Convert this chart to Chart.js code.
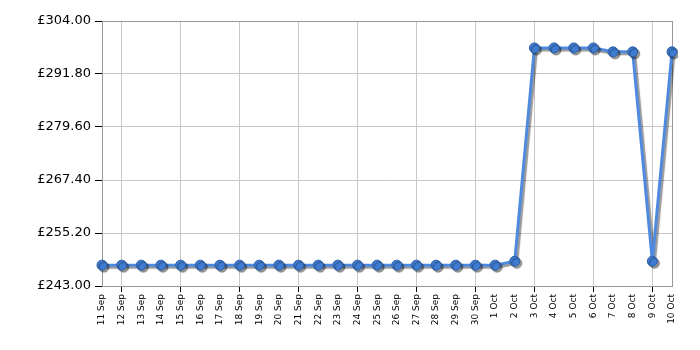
<!DOCTYPE html>
<html>
<head>
<meta charset="utf-8">
<script src="https://cdn.jsdelivr.net/npm/chart.js@4"></script>
<style>
  html, body { margin: 0; padding: 0; background: #fff; }
  #wrap { width: 700px; height: 350px; }
</style>
</head>
<body>
<div id="wrap"><canvas id="priceChart"></canvas></div>
<script>
// Ngày (nhãn trục x)
const dates = ['11 Sep', '12 Sep', '13 Sep', '14 Sep', '15 Sep', '16 Sep', '17 Sep', '18 Sep', '19 Sep', '20 Sep',
    '21 Sep', '22 Sep', '23 Sep', '24 Sep', '25 Sep', '26 Sep', '27 Sep', '28 Sep', '29 Sep', '30 Sep',
    '1 Oct', '2 Oct', '3 Oct', '4 Oct', '5 Oct', '6 Oct', '7 Oct', '8 Oct', '9 Oct', '10 Oct'];

// Giá theo ngày
const prices = [247.8, 247.8, 247.8, 247.8, 247.8, 247.8, 247.8, 247.8, 247.8, 247.8,
    247.8, 247.8, 247.8, 247.8, 247.8, 247.8, 247.8, 247.8, 247.8, 247.8,
    247.8, 248.7, 297.8, 297.8, 297.8, 297.8, 296.9, 296.9, 248.7, 296.9];

// Nhãn trục y
const yTicks = [243.0, 255.2, 267.4, 279.6, 291.8, 304.0];

// Bóng đổ cho đường và điểm
const shadowPlugin = {
    id: 'shadow',
    beforeDatasetDraw(chart) {
        const ctx = chart.ctx;
        ctx.save();
        ctx.shadowColor = 'rgba(0,0,0,0.4)';
        ctx.shadowBlur = 1;
        ctx.shadowOffsetX = 2;
        ctx.shadowOffsetY = 2;
    },
    afterDatasetDraw(chart) {
        chart.ctx.restore();
    }
};

// Khung quanh vùng biểu đồ
const framePlugin = {
    id: 'frame',
    beforeDatasetsDraw(chart) {
        const { ctx, chartArea: a } = chart;
        ctx.save();
        ctx.strokeStyle = '#999';
        ctx.lineWidth = 1;
        ctx.strokeRect(Math.round(a.left) + 0.5, Math.round(a.top) + 0.5,
            Math.round(a.right - a.left), Math.round(a.bottom - a.top));
        ctx.restore();
    }
};

const ctxPrice = document.getElementById('priceChart').getContext('2d');
new Chart(ctxPrice, {
    type: 'line',
    data: {
        labels: dates,
        datasets: [{
            data: prices,
            borderColor: '#4f8ade',
            borderWidth: 3,
            pointRadius: 5,
            pointBackgroundColor: '#3f7bd0',
            pointBorderColor: '#2b5ea6',
            pointBorderWidth: 1,
            tension: 0,
            fill: false
        }]
    },
    options: {
        responsive: true,
        maintainAspectRatio: false,
        animation: false,
        layout: { padding: { top: 21, right: 28, bottom: 0, left: 0 } },
        plugins: {
            legend: { display: false },
            tooltip: { enabled: false }
        },
        scales: {
            x: {
                offset: false,
                border: { color: '#999', width: 1 },
                grid: {
                    color: c => (c.index % 3 === 1 ? '#c8c8c8' : 'rgba(0,0,0,0)'),
                    tickColor: c => (c.index % 3 === 1 ? '#000' : 'rgba(0,0,0,0)'),
                    tickLength: 6
                },
                ticks: {
                    autoSkip: false,
                    minRotation: 90,
                    maxRotation: 90,
                    padding: 2,
                    color: '#000',
                    font: { family: 'DejaVu Sans', size: 9 }
                },
                afterFit: s => { s.height = 64; }
            },
            y: {
                min: 243,
                max: 304,
                border: { color: '#999', width: 1 },
                grid: { color: '#c8c8c8', tickColor: '#000', tickLength: 7 },
                ticks: {
                    color: '#000',
                    padding: 4,
                    font: { family: 'DejaVu Sans', size: 13 },
                    callback: v => '£' + Number(v).toFixed(2)
                },
                afterBuildTicks: s => { s.ticks = yTicks.map(v => ({ value: v })); },
                afterFit: s => { s.width = 102; }
            }
        }
    },
    plugins: [shadowPlugin, framePlugin]
});
</script>
</body>
</html>
